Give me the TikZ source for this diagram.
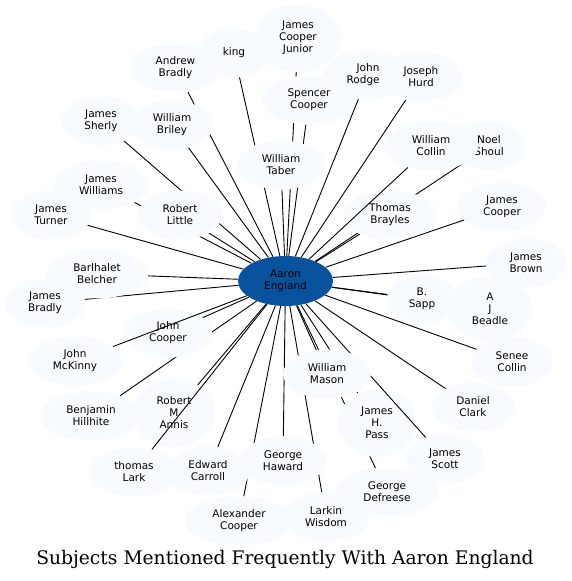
\documentclass[tikz,border=0pt]{standalone}
\usepackage{fontspec}
\setmainfont{DejaVu Sans}
\newfontfamily\titlefont{DejaVu Serif}
\usetikzlibrary{shapes.geometric}
\pgfdeclarelayer{edges}
\pgfdeclarelayer{over}
\pgfdeclarelayer{top}
\pgfsetlayers{edges,main,over,top}
\definecolor{hubblue}{HTML}{08519C}
\definecolor{leafblue}{HTML}{F7FBFF}
\tikzset{
  subject/.style={ellipse, fill=leafblue, inner sep=0pt, align=center,
    font=\fontsize{10.5}{12}\selectfont},
  hub/.style={subject, fill=hubblue, minimum width=95pt, minimum height=50pt},
  link/.style={black, line width=0.9pt},
}
\begin{document}
\begin{tikzpicture}[x=1pt, y=-1pt]
  \useasboundingbox (0,0) rectangle (571,581);
  % Central subject
  \node[hub] (aaron) at (285.5,281) {Aaron\\England};
  % Subjects around it: name/x/y/width/height/label
  \foreach \name/\x/\y/\w/\h/\lbl in {
      andrew/175.5/68/89/49/{Andrew\\Bradly},
      king/234/53/72/49/{king},
      jcjunior/298/38/86/68/{James\\Cooper\\Junior},
      spencer/309/100/94/49/{Spencer\\Cooper},
      rodgers/368/75/90/49/{John\\Rodge\phantom{rs}},
      hurd/421/77/84/49/{Joseph\\Hurd},
      sherly/101/121/78/49/{James\\Sherly},
      briley/172/125/82/49/{William\\Briley},
      taber/281/165/88/49/{William\\Taber},
      noel/489/146/72/49/{Noel\\Shoul},
      wcollin/431/146/94/49/{William\\Collin},
      williams/101/185/94/49/{James\\Williams},
      turner/51/215/80/49/{James\\Turner},
      little/180/215/84/49/{Robert\\Little},
      brayles/390/215/94/49/{Thomas\\Brayles},
      jcooper/502/207/88/49/{James\\Cooper},
      belcher/97/274/102/49/{Barlhalet\\Belcher},
      jbradly/45/303/80/49/{James\\Bradly},
      brown/526/263/80/49/{James\\Brown},
      beadle/490/309/84/66/{A\\J\\Beadle},
      sapp/422/299/70/49/{B.\\Sapp},
      johncooper/168/333/88/49/{John\\Cooper},
      mckinny/75/361/94/49/{John\\McKinny},
      senee/512/362/82/49/{Senee\\Collin},
      hillhite/91/416/102/49/{Benjamin\\Hillhite},
      annis/174/413/82/68/{Robert\\M\\Annis},
      pass/377/423/78/68/{James\\H.\\Pass},
      clark/473/407/82/49/{Daniel\\Clark},
      scott/445/459/78/49/{James\\Scott},
      lark/134/472/88/49/{thomas\\Lark},
      carroll/208/471/84/49/{Edward\\Carroll},
      haward/283/461/86/49/{George\\Haward},
      defreese/387/492/102/49/{George\\Defreese},
      alexcooper/239/521/108/49/{Alexander\\Cooper},
      wisdom/326/517/88/49/{Larkin\\Wisdom}}
    \node[subject, minimum width=\w pt, minimum height=\h pt] (\name) at (\x,\y) {\lbl};
  \begin{pgfonlayer}{top}
    \node[subject, minimum width=88pt, minimum height=49pt] (mason) at (327,374) {William\\Mason};
  \end{pgfonlayer}
  % Links under the subjects
  \begin{pgfonlayer}{edges}
    \foreach \n in {andrew,king,jcjunior,spencer,rodgers,hurd,sherly,briley,
        taber,noel,williams,turner,little,brayles,jcooper,belcher,jbradly,
        brown,beadle,sapp,johncooper,senee,hillhite,annis,mason,pass,clark,
        carroll,haward,defreese,alexcooper,wisdom}
      \draw[link] (aaron) -- (\n);
  \end{pgfonlayer}
  % Links drawn over the subjects they cross
  \begin{pgfonlayer}{over}
    \foreach \n in {wcollin,mckinny,lark,scott}
      \draw[link] (aaron) -- (\n);
  \end{pgfonlayer}
  % Title
  \node[font=\titlefont\fontsize{18.7}{22}\selectfont] (title) at (285,559)
    {Subjects Mentioned Frequently With Aaron England};
\end{tikzpicture}
\end{document}
